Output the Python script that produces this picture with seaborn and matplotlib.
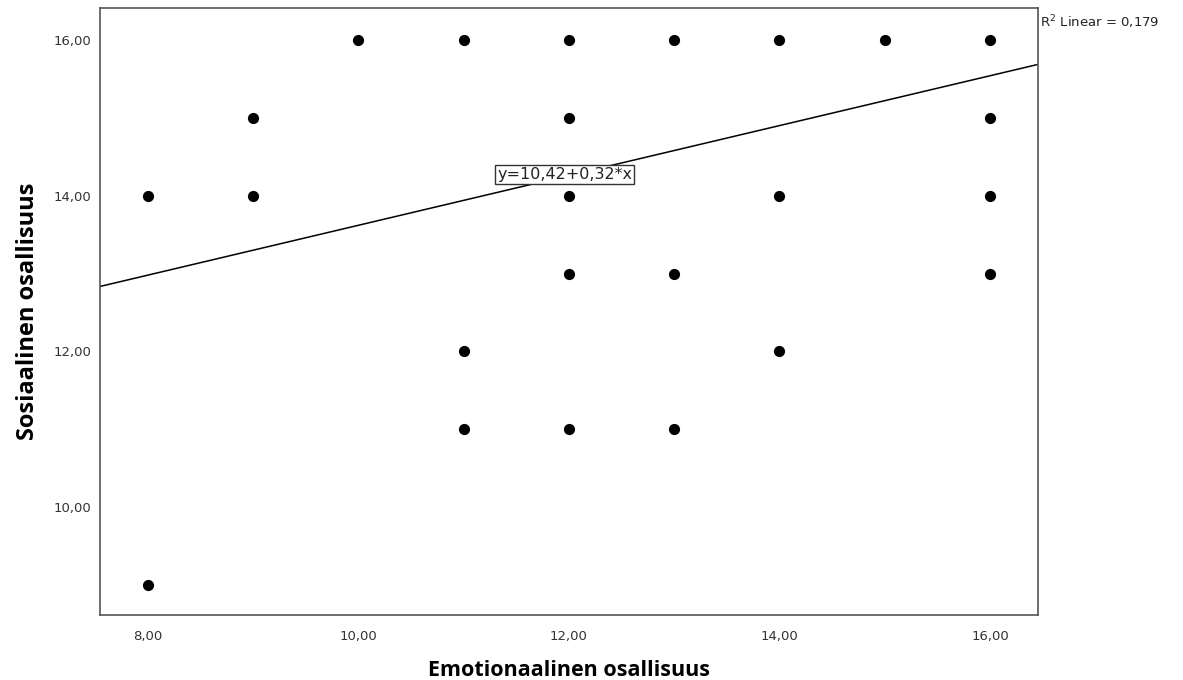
import matplotlib
matplotlib.use("Agg")
import pandas as pd
import seaborn as sns
import matplotlib.pyplot as plt
from matplotlib.ticker import FixedLocator, FuncFormatter

# Data
emotional = [8, 8, 9, 9, 10, 11, 11, 11, 12, 12, 12, 12, 12,
             13, 13, 13, 14, 14, 14, 15, 16, 16, 16, 16]
social = [14, 9, 15, 14, 16, 16, 12, 11, 16, 15, 14, 13, 11,
          16, 13, 11, 16, 14, 12, 16, 16, 15, 14, 13]
intercept = 10.42
slope = 0.32
r2 = "0,179"
x_ticks = [8, 10, 12, 14, 16]
y_ticks = [10, 12, 14, 16]

df = pd.DataFrame({"Emotionaalinen osallisuus": emotional,
                   "Sosiaalinen osallisuus": social})

sns.set_style("white")
plt.rcParams['font.family'] = ['DejaVu Sans']

fig = plt.figure(figsize=(11.83, 6.80), dpi=100)
ax = fig.add_axes([0.0845, 0.0956, 0.7929, 0.8926])

sns.scatterplot(data=df, x="Emotionaalinen osallisuus", y="Sosiaalinen osallisuus",
                color="black", s=65, edgecolor="black", linewidth=0, ax=ax)

# fit line
ax.axline((0, intercept), slope=slope, color="black", linewidth=1.1)

ax.set_xlim(7.544, 16.456)
ax.set_ylim(8.615, 16.41)
ax.xaxis.set_major_locator(FixedLocator(x_ticks))
ax.yaxis.set_major_locator(FixedLocator(y_ticks))
fmt = FuncFormatter(lambda v, p: f"{v:.2f}".replace(".", ","))
ax.xaxis.set_major_formatter(fmt)
ax.yaxis.set_major_formatter(fmt)
ax.tick_params(length=0, labelsize=9.5, colors="#333333")
ax.tick_params(axis="y", pad=6)
ax.tick_params(axis="x", pad=11)

for s in ax.spines.values():
    s.set_color("#555555")
    s.set_linewidth(1.2)

ax.set_xlabel("Emotionaalinen osallisuus", fontsize=15.5, fontweight="bold",
              family=["Open Sans"], color="black", labelpad=12)
ax.set_ylabel("Sosiaalinen osallisuus", fontsize=17, fontweight="bold",
              family=["Open Sans"], color="black", labelpad=10)

ax.text(11.96, 14.27, "y=10,42+0,32*x", ha="center", va="center", fontsize=11.5,
        color="#222222",
        bbox=dict(boxstyle="square,pad=0.12", facecolor="white",
                  edgecolor="#333333", linewidth=1))

fig.text(1040 / 1183, 1 - 22 / 680, "R$^2$ Linear = " + r2, fontsize=9.5,
         ha="left", va="center", color="#222222")

fig.savefig("out.png", dpi=100)
